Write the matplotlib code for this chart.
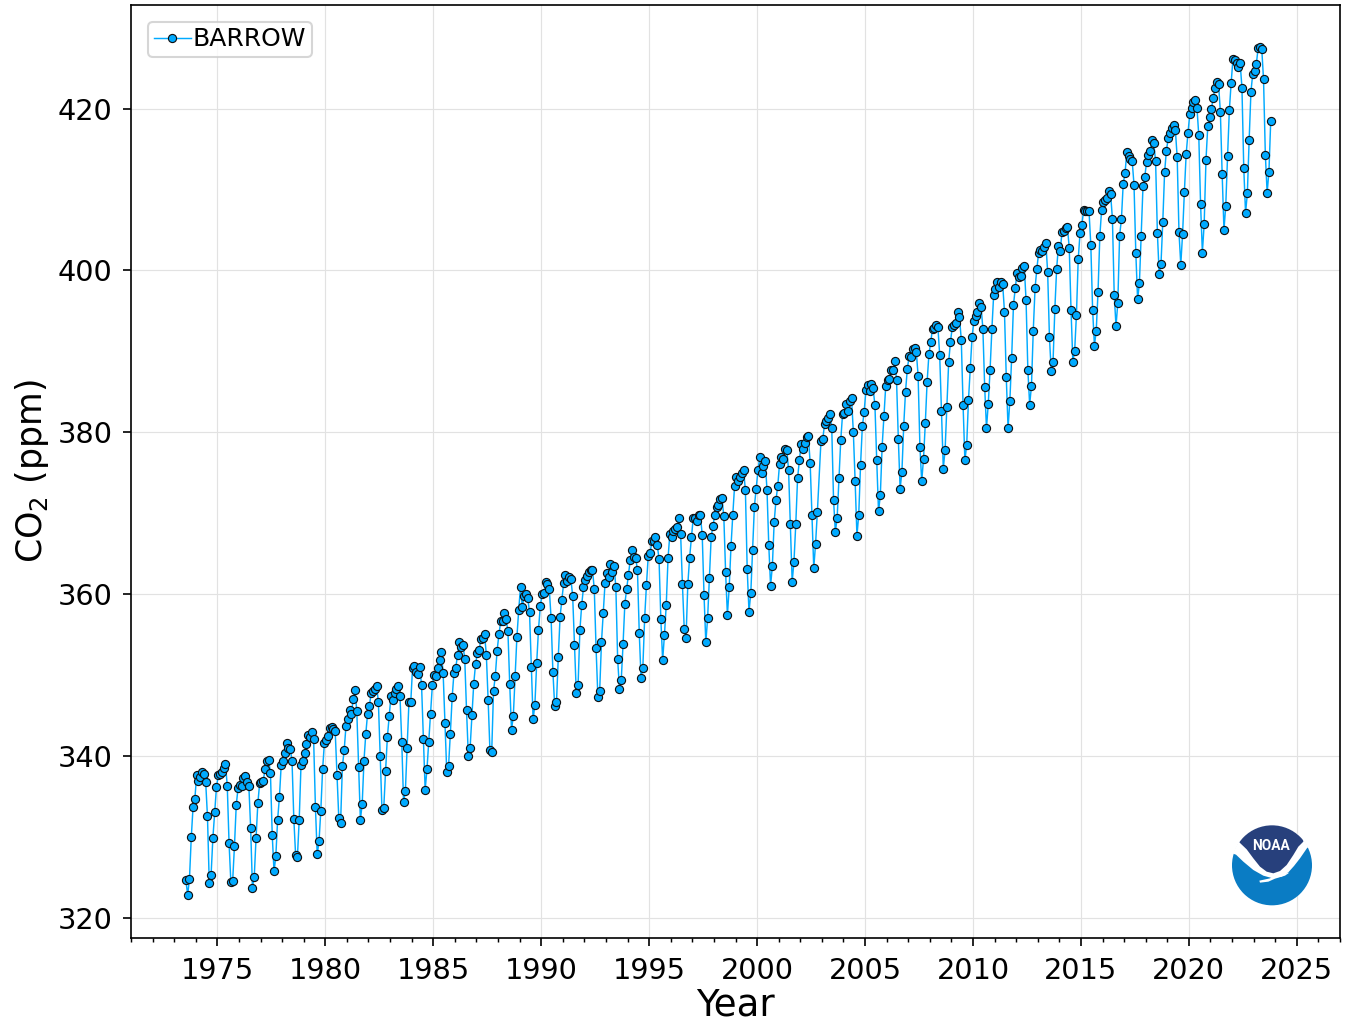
import numpy as np
import matplotlib
matplotlib.use("Agg")
import matplotlib.pyplot as plt
from matplotlib.patches import Circle, Polygon

# monthly CO2 (ppm). Jul 1973 to Oct 2023, None = no sample
co2_1970s = [
    324.6, 322.8, 324.8, 329.9, 333.7, 334.7,
    337.6, 336.9, 337.4, 338.0, 337.7, 336.8, 332.5, 324.3, 325.2, 329.8, 333.0, 336.1,
    337.6, 337.7, 338.0, 338.5, 339.0, 336.3, 329.2, 324.4, 324.5, 328.8, 333.9, 336.0,
    336.4, 336.2, 337.2, 337.5, 336.8, 336.3, 331.1, 323.7, 325.0, 329.8, 334.1, 336.6,
    336.8, 336.9, 338.3, 339.3, 339.5, 337.9, 330.2, 325.7, 327.6, 332.1, 334.9, 338.9,
    339.4, 340.3, 341.6, 341.0, 340.8, 339.4, 332.2, 327.7, 327.5, 332.1, 338.9, 339.4,
    340.3, 341.4, 342.6, 342.3, 342.9, 342.1, 333.7, 327.8, 329.4, 333.2, 338.3, 341.6,
]
co2_1980s = [
    341.9, 342.4, 343.4, 343.6, 343.3, 343.0, 337.6, 332.3, 331.7, 338.7, 340.7, 343.7,
    344.5, 345.7, 345.2, 347.0, 348.1, 345.5, 338.6, 332.1, 334.0, 339.4, 342.7, 345.2,
    346.1, 347.8, 348.0, 348.3, 348.6, 346.7, 340.0, 333.3, 333.6, 338.1, 342.3, 344.9,
    347.4, 346.9, 347.7, 348.2, 348.6, 347.4, 341.7, 334.3, 335.6, 341.0, 346.7, 346.6,
    350.9, 351.1, 350.4, 350.1, 351.0, 348.7, 342.1, 335.8, 338.3, 341.7, 345.1, 348.7,
    350.0, 349.9, 350.9, 351.8, 352.8, 350.2, 344.0, 338.0, 338.7, 342.7, 347.2, 350.2,
    350.9, 352.4, 354.1, 353.4, 353.7, 352.0, 345.6, 340.0, 341.0, 345.0, 348.9, 351.3,
    352.7, 353.1, 354.4, 354.5, 355.0, 352.5, 346.9, 340.7, 340.5, 348.0, 349.9, 353.0,
    355.0, 356.6, 356.7, 357.7, 356.9, 355.4, 348.9, 343.2, 344.9, 349.8, 354.7, 358.0,
    360.9, 358.4, 359.7, 360.0, 359.5, 357.8, 351.0, 344.5, 346.3, 351.5, 355.6, 358.5,
]
co2_1990s = [
    360.0, 360.1, 361.5, 361.2, 360.6, 357.0, 350.4, 346.1, 346.6, 352.2, 357.2, 359.3,
    361.4, 362.3, 361.6, 362.1, 361.9, 359.7, 353.7, 347.8, 348.7, 355.5, 358.6, 360.8,
    361.7, 362.2, 362.7, 362.9, 363.0, 360.6, 353.3, 347.3, 348.0, 354.0, 357.6, 361.4,
    362.6, 362.1, 363.7, 362.7, 363.5, 360.8, 351.9, 348.3, 349.4, 353.8, 358.8, 360.6,
    362.3, 364.2, 365.4, 364.6, 364.4, 363.0, 355.2, 349.6, 350.9, 357.0, 361.1, 364.7,
    365.0, 366.5, 366.5, 367.0, 366.1, 364.3, 356.9, 351.8, 354.9, 358.6, 364.4, 367.4,
    367.0, 367.8, 368.0, 368.3, 369.4, 367.4, 361.2, 355.7, 354.5, 361.2, 364.5, 367.0,
    369.4, 369.4, 369.0, 369.7, 369.7, 367.3, 359.9, 354.0, 357.0, 362.0, 367.1, 368.4,
    369.8, 370.8, 371.0, 371.7, 371.8, 369.6, 362.7, 357.4, 360.8, 365.9, 369.8, 373.4,
    374.5, 374.0, 374.5, 375.0, 375.3, 372.8, 363.1, 357.8, 360.1, 365.4, 370.8, 373.0,
]
co2_2000s = [
    375.3, 376.9, 375.0, 375.8, 376.4, 372.9, 366.0, 361.0, 363.5, 368.9, 371.6, 373.4,
    376.1, 376.9, 376.7, 377.9, 377.8, 375.3, 368.6, 361.5, 364.0, 368.6, 374.3, 376.5,
    378.5, 377.9, 378.6, 379.4, 379.5, 376.2, 369.8, 363.2, 366.2, 370.1, None, 378.9,
    379.1, 381.0, 381.4, 381.7, 382.2, 380.5, 371.6, 367.7, 369.4, 374.3, 379.0, 382.2,
    382.4, 383.5, 382.6, 383.9, 384.2, 380.0, 373.9, 367.2, 369.8, 375.9, 380.7, 382.5,
    385.2, 385.8, 385.1, 386.0, 385.4, 383.3, 376.5, 370.2, 372.2, 378.2, 382.0, 385.7,
    386.5, 386.6, 387.7, 387.7, 388.8, 386.5, 379.2, 373.0, 375.1, 380.8, 385.0, 387.8,
    389.4, 389.3, 390.3, 390.4, 389.9, 387.0, 378.2, 373.9, 376.7, 381.1, 386.2, 389.6,
    391.1, 392.8, 392.9, 393.3, 393.0, 389.5, 382.6, 375.5, 377.8, 383.1, 388.7, 391.2,
    393.0, 393.3, 393.5, 394.8, 394.2, 391.4, 383.3, 376.5, 378.4, 384.0, 387.9, 391.8,
]
co2_2010s = [
    393.7, 394.4, 394.8, 396.0, 395.5, 392.8, 385.6, 380.5, 383.5, 387.7, 392.7, 397.0,
    397.7, 398.6, 398.0, 398.6, 398.3, 394.9, 386.8, 380.5, 383.9, 389.2, 395.7, 397.8,
    399.7, 399.2, 399.3, 400.3, 400.5, 396.3, 387.7, 383.4, 385.7, 392.5, 397.8, 400.2,
    402.2, 402.5, 402.4, 402.9, 403.4, 399.8, 391.7, 387.5, 388.7, 395.2, 400.2, 403.0,
    402.4, 404.8, 404.9, 405.2, 405.3, 402.8, 395.1, 388.7, 390.0, 394.5, 401.4, 404.6,
    405.6, 407.4, 407.3, 407.3, 407.3, 403.1, 395.1, 390.7, 392.5, 397.3, 404.2, 407.5,
    408.5, 408.7, 409.0, 409.8, 409.4, 406.4, 397.0, 393.1, 396.0, 404.3, 406.3, 410.7,
    412.0, 414.6, 414.1, 413.8, 413.5, 410.6, 402.2, 396.4, 398.4, 404.3, 410.4, 411.6,
    413.4, 414.3, 414.8, 416.1, 415.7, 413.5, 404.6, 399.5, 400.8, 406.0, 412.1, 414.8,
    416.3, 417.0, 417.6, 418.0, 417.3, 414.0, 404.7, 400.7, 404.5, 409.7, 414.4, 417.0,
]
co2_2020s = [
    419.3, 420.1, 420.8, 421.1, 420.1, 416.7, 408.2, 402.2, 405.7, 413.6, 417.8, 419.0,
    419.9, 421.3, 422.5, 423.3, 423.0, 419.6, 411.9, 405.0, 408.0, 414.1, 419.8, 423.2,
    426.1, 426.0, 425.6, 425.1, 425.6, 422.6, 412.7, 407.1, 409.5, 416.1, 422.1, 424.3,
    424.6, 425.5, 427.5, 427.6, 427.4, 423.6, 414.3, 409.6, 412.2, 418.5,
]
start_year = 1973
start_month = 7
x_ticks = [1975, 1980, 1985, 1990, 1995, 2000, 2005, 2010, 2015, 2020, 2025]
y_ticks = [320, 340, 360, 380, 400, 420]

values = co2_1970s + co2_1980s + co2_1990s + co2_2000s + co2_2010s + co2_2020s
months = np.arange(len(values))
dates = start_year + (start_month - 1 + months + 0.5) / 12
keep = np.array([v is not None for v in values])
co2 = np.array([v for v in values if v is not None])

W, H = 1347, 1025
DPI = 150
fig = plt.figure(figsize=(W / DPI, H / DPI), dpi=DPI)
ax = fig.add_axes([131 / W, 1 - 938 / H, (1340 - 131) / W, (938 - 5) / H])

ax.plot(dates[keep], co2, "-o", color="#00aaff", lw=0.7, ms=3.9, mfc="#00aaff",
        mec="#101010", mew=0.55, label="BARROW", zorder=3)

ax.set_xlim(1971, 2027)
ax.set_ylim(317.47, 432.8)
ax.set_xticks(x_ticks)
ax.set_xticks(np.arange(1971, 2028), minor=True)
ax.set_yticks(y_ticks)
ax.tick_params(axis="both", which="major", labelsize=13.8, length=4, width=0.8, pad=5)
ax.tick_params(axis="x", which="minor", length=2, width=0.7)
ax.grid(True, which="major", color="#e2e2e2", lw=0.55)
ax.set_axisbelow(True)
ax.set_xlabel("Year", fontsize=17.8, labelpad=1)
ax.set_ylabel("CO$_2$ (ppm)", fontsize=16.7, labelpad=3)

ax.legend(loc="upper left", fontsize=12, handlelength=1.5, handletextpad=0.06,
          borderaxespad=0.68, borderpad=0.22)

# NOAA logo, coordinates in a small 390x390 box around the emblem
logo = fig.add_axes([1210 / W, 1 - 940 / H, 130 / W, 130 / H], zorder=5)
logo.set_xlim(0, 390)
logo.set_ylim(390, 0)
logo.axis("off")
logo.patch.set_alpha(0)

disc = Circle((186, 166), 120, fc="#0a7cc4", ec="none")
logo.add_patch(disc)
band = Polygon([(40, 130), (66, 130), (78, 134), (100, 155), (130, 180), (160, 197),
                (185, 204), (215, 200), (235, 187), (252, 168), (270, 145), (292, 113),
                (320, 113), (320, 20), (40, 20)], fc="white", ec="none")
logo.add_patch(band)
band.set_clip_path(Circle((186, 166), 122, transform=logo.transData))
navy = Polygon([(88, 97), (110, 118), (130, 145), (150, 170), (170, 185), (190, 190),
                (210, 183), (230, 165), (250, 135), (265, 110), (280, 95), (280, 20),
                (88, 20)], fc="#27407c", ec="none")
logo.add_patch(navy)
navy.set_clip_path(Circle((186, 166), 120, transform=logo.transData))
logo.add_patch(Polygon([(148, 212), (180, 205), (195, 195), (238, 188), (225, 197),
                        (195, 206), (175, 215), (150, 218)], fc="white", ec="none"))
logo.text(183, 109, "NOAA", color="white", fontsize=6.6, fontweight="bold",
          family="Roboto", ha="center", va="center")

fig.savefig("out.png", dpi=DPI)
